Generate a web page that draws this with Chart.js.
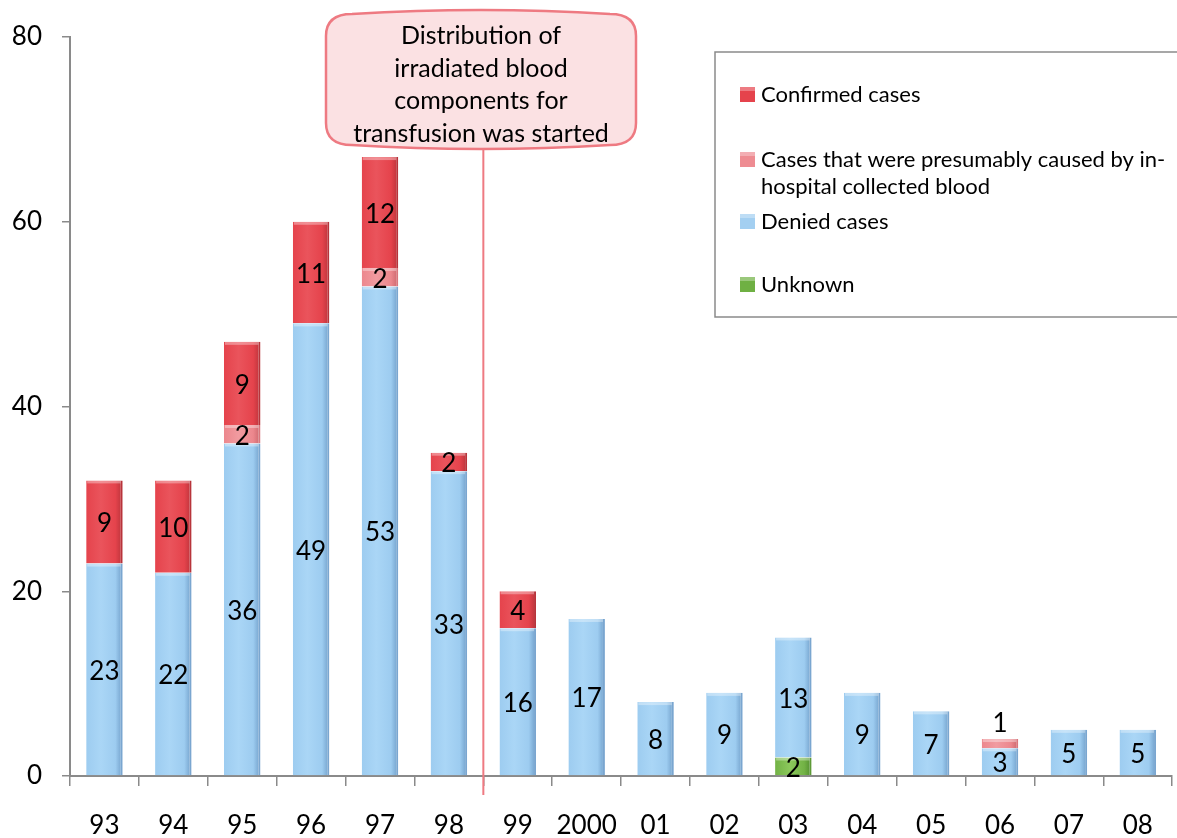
<!DOCTYPE html>
<html>
<head>
<meta charset="utf-8">
<script src="https://cdn.jsdelivr.net/npm/chart.js@4.4.1/dist/chart.umd.min.js"></script>
<style>
  html, body { margin: 0; padding: 0; background: #fff; }
  #wrap { width: 1177px; height: 838px; position: relative; }
</style>
</head>
<body>
<div id="wrap"><canvas id="c" width="1177" height="838"></canvas></div>
<script>
// Yearly case counts, stacked from bottom to top
const years = ['93', '94', '95', '96', '97', '98', '99', '2000', '01', '02', '03', '04', '05', '06', '07', '08'];
const unknownCases   = [0, 0, 0, 0, 0, 0, 0, 0, 0, 0, 2, 0, 0, 0, 0, 0];
const deniedCases    = [23, 22, 36, 49, 53, 33, 16, 17, 8, 9, 13, 9, 7, 3, 5, 5];
const presumedCases  = [0, 0, 2, 0, 2, 0, 0, 0, 0, 0, 0, 0, 0, 1, 0, 0];
const confirmedCases = [9, 10, 9, 11, 12, 2, 4, 0, 0, 0, 0, 0, 0, 0, 0, 0];
const yTicks = [0, 20, 40, 60, 80];

const legendLabels = [
  { text: ['Confirmed cases'], color: '#E5434C' },
  { text: ['Cases that were presumably caused by in-', 'hospital collected blood'], color: '#EE8C92' },
  { text: ['Denied cases'], color: '#A3CFF1' },
  { text: ['Unknown'], color: '#6FB043' }
];
const calloutLines = ['Distribution of', 'irradiated blood', 'components for', 'transfusion was started'];
const markerAfter = '98';

const FONT = 'Lato, "Open Sans", sans-serif';
const BAR_PCT = 0.53;

// Horizontal shading for each bar, lighter in the middle and darker at the right edge
function shaded(base, light, dark) {
  return (ctx) => {
    const chart = ctx.chart;
    const xs = chart.scales && chart.scales.x;
    if (!xs || ctx.dataIndex === undefined) return base;
    const cx = xs.getPixelForValue(ctx.dataIndex);
    if (!isFinite(cx)) return base;
    const w = (xs.width / years.length) * BAR_PCT;
    const g = chart.ctx.createLinearGradient(cx - w / 2, 0, cx + w / 2, 0);
    g.addColorStop(0, base);
    g.addColorStop(0.4, light);
    g.addColorStop(0.8, base);
    g.addColorStop(1, dark);
    return g;
  };
}

// Segment values printed inside each bar piece
const valueLabels = {
  id: 'valueLabels',
  afterDatasetsDraw(chart) {
    const c = chart.ctx;
    c.save();
    c.font = '26px ' + FONT;
    c.fillStyle = '#000';
    c.textAlign = 'center';
    c.textBaseline = 'middle';
    chart.data.datasets.forEach((ds, di) => {
      const meta = chart.getDatasetMeta(di);
      meta.data.forEach((bar, i) => {
        const v = ds.data[i];
        if (!v) return;
        const top = Math.min(bar.y, bar.base);
        const h = Math.abs(bar.base - bar.y);
        let y = top + h / 2 + 2;
        if (h < 12) y = top - 15;
        c.fillText(String(v), bar.x, y);
      });
    });
    c.restore();
  }
};

// Top highlight strip of every segment
const barGloss = {
  id: 'barGloss',
  afterDatasetsDraw(chart) {
    const c = chart.ctx;
    c.save();
    chart.data.datasets.forEach((ds, di) => {
      const meta = chart.getDatasetMeta(di);
      meta.data.forEach((bar, i) => {
        if (!ds.data[i]) return;
        const w = bar.width;
        const top = Math.min(bar.y, bar.base);
        c.fillStyle = 'rgba(255,255,255,0.35)';
        c.fillRect(bar.x - w / 2 + 1, top, w - 3, 3);
      });
    });
    c.restore();
  }
};

// Callout box with its marker line between two years, plus the legend panel
const annotations = {
  id: 'annotations',
  afterDraw(chart) {
    const c = chart.ctx;
    const x = chart.scales.x;
    const idx = years.indexOf(markerAfter);
    const lineX = (x.getPixelForValue(idx) + x.getPixelForValue(idx + 1)) / 2;

    c.save();
    // marker line
    c.strokeStyle = '#EE7A82';
    c.lineWidth = 2;
    c.beginPath();
    c.moveTo(lineX, 148);
    c.lineTo(lineX, 795);
    c.stroke();

    // callout box
    const bx = 326, by = 10, bw = 310, bh = 139, r = 26;
    c.beginPath();
    c.moveTo(bx + r, by + 4);
    c.quadraticCurveTo(bx + bw / 2, by - 4, bx + bw - r, by + 4);
    c.quadraticCurveTo(bx + bw, by + 4, bx + bw, by + r);
    c.lineTo(bx + bw, by + bh - r);
    c.quadraticCurveTo(bx + bw, by + bh - 4, bx + bw - r, by + bh - 4);
    c.quadraticCurveTo(bx + bw / 2, by + bh + 4, bx + r, by + bh - 4);
    c.quadraticCurveTo(bx, by + bh - 4, bx, by + bh - r);
    c.lineTo(bx, by + r);
    c.quadraticCurveTo(bx, by + 4, bx + r, by + 4);
    c.closePath();
    c.fillStyle = '#FBE1E3';
    c.fill();
    c.lineWidth = 2.5;
    c.strokeStyle = '#EE7A82';
    c.stroke();

    c.fillStyle = '#000';
    c.font = '25px ' + FONT;
    c.textAlign = 'center';
    c.textBaseline = 'middle';
    calloutLines.forEach((t, i) => c.fillText(t, 481, 36 + i * 32.5));

    // legend panel
    c.strokeStyle = '#8A8A8A';
    c.lineWidth = 1.5;
    c.beginPath();
    c.moveTo(1180, 52);
    c.lineTo(715, 52);
    c.lineTo(715, 317);
    c.lineTo(1180, 317);
    c.stroke();

    c.font = '22px ' + FONT;
    c.textAlign = 'left';
    const rows = [95, 160, 222, 285];
    legendLabels.forEach((item, i) => {
      const y = rows[i];
      c.fillStyle = item.color;
      c.fillRect(740, y - 8, 15, 15);
      c.fillStyle = 'rgba(255,255,255,0.3)';
      c.fillRect(740, y - 8, 15, 4);
      c.fillStyle = '#000';
      item.text.forEach((t, k) => c.fillText(t, 761, y + k * 27));
    });
    c.restore();
  }
};

const data = {
  labels: years,
  datasets: [
    { label: 'Unknown', data: unknownCases, backgroundColor: shaded('#72B245', '#8CC85C', '#4F8A2E'), borderColor: '#5E9A37' },
    { label: 'Denied cases', data: deniedCases, backgroundColor: shaded('#9DCCF0', '#AAD6F6', '#6F9DC8'), borderColor: '#7AA6D0' },
    { label: 'Cases that were presumably caused by in-hospital collected blood', data: presumedCases, backgroundColor: shaded('#EC878D', '#F19BA0', '#C9656B'), borderColor: '#D9767C' },
    { label: 'Confirmed cases', data: confirmedCases, backgroundColor: shaded('#E5434C', '#EA545C', '#B8333A'), borderColor: '#B8343B' }
  ].map(d => Object.assign(d, {
    stack: 'all',
    borderWidth: { right: 2, left: 0, top: 0, bottom: 0 },
    borderSkipped: false,
    barPercentage: BAR_PCT,
    categoryPercentage: 1.0
  }))
};

new Chart(document.getElementById('c'), {
  type: 'bar',
  data,
  options: {
    responsive: false,
    animation: false,
    devicePixelRatio: 1,
    layout: { padding: { top: 37, right: 4, left: 0, bottom: 0 } },
    plugins: { legend: { display: false }, tooltip: { enabled: false } },
    scales: {
      x: {
        stacked: true,
        grid: { offset: true, drawOnChartArea: false, tickLength: 10, color: '#8A8A8A', lineWidth: 1.5 },
        border: { color: '#8A8A8A', width: 2 },
        ticks: { color: '#000', font: { family: FONT, size: 26 }, padding: 24, maxRotation: 0 },
        afterFit: (s) => { s.height = 62; }
      },
      y: {
        stacked: true,
        min: 0, max: 80,
        afterBuildTicks: (s) => { s.ticks = yTicks.map(v => ({ value: v })); },
        grid: { drawOnChartArea: false, tickLength: 8, color: '#8A8A8A', lineWidth: 1.5 },
        border: { color: '#8A8A8A', width: 2 },
        ticks: { color: '#000', font: { family: FONT, size: 26 }, padding: 20 },
        afterFit: (s) => { s.width = 70; }
      }
    }
  },
  plugins: [barGloss, valueLabels, annotations]
});
</script>
</body>
</html>
